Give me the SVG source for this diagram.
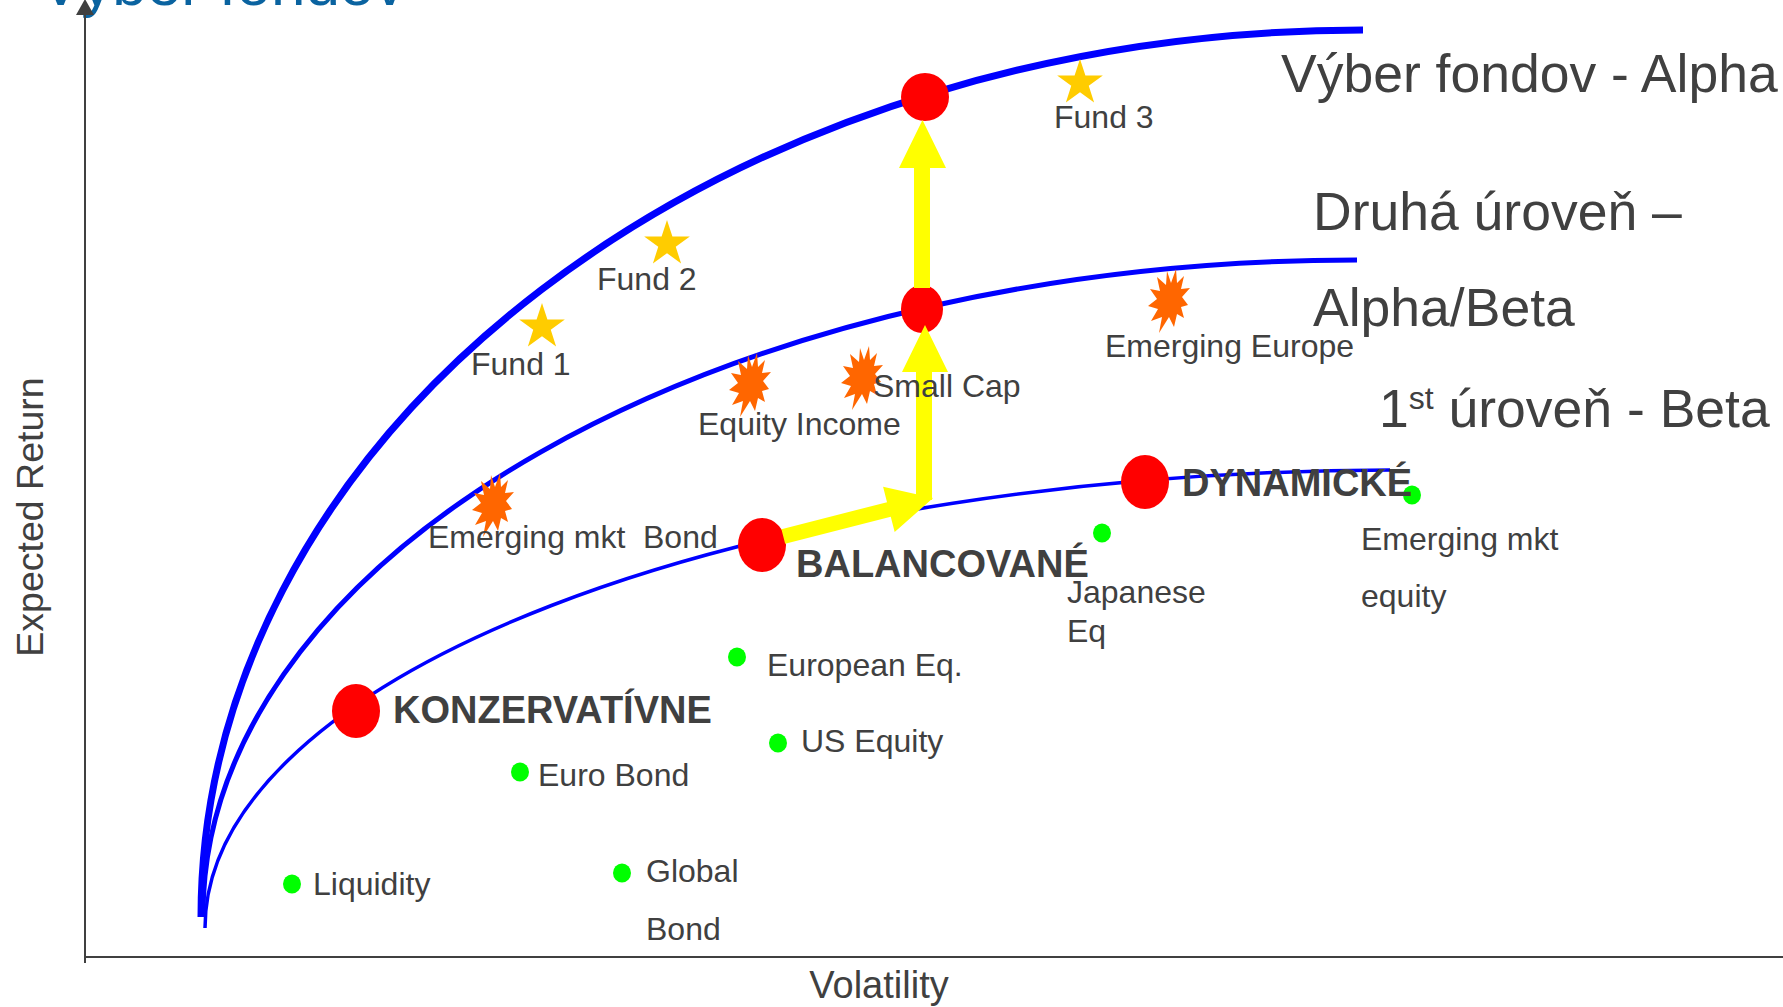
<svg xmlns="http://www.w3.org/2000/svg" xmlns:xlink="http://www.w3.org/1999/xlink" width="1783" height="1007" viewBox="0 0 1783 1007">
<style>
.t{font-family:"Liberation Sans",Arial,sans-serif;font-size:32px;fill:#404040}
.b{font-weight:bold;font-size:38px}
.big{font-size:53.5px}
.curve{fill:none;stroke:#0000FF}
.dot{fill:#FF0000}
.g{fill:#00FF00}
.star{fill:#FFCC00}
.burst{fill:#FF6600}
.arrow{fill:#FFFF00}
.axis{stroke:#404040;stroke-width:2;fill:none}
</style>
<defs>
<polygon id="star" points="0,-24 5.41,-7.44 22.83,-7.42 8.75,2.84 14.11,19.42 0,9.2 -14.11,19.42 -8.75,2.84 -22.83,-7.42 -5.41,-7.44"/>
<polygon id="burst" points="7,-32 8,-18 15,-25 12,-12 21,-13 13,-4 19,4 12,6 15,17 8,13 5,26 0,16 -10,32 -7,16 -18,20 -11,8 -21,5 -12,-2 -19,-12 -9,-10 -12,-24 -3,-16 -2,-30 2,-18"/>
</defs>
<rect width="1783" height="1007" fill="#FFFFFF"/>

<g id="title"><text class="t" x="40" y="5" style="font-size:62px;fill:#0A63A0">Výber fondov</text></g>

<g id="axes">
<line class="axis" x1="85" y1="10" x2="85" y2="963"/>
<line class="axis" x1="84" y1="957" x2="1783" y2="957"/>
<polygon points="85,-1 76,15 94,15" fill="#404040"/>
<text class="t" transform="translate(43,517) rotate(-90)" text-anchor="middle" style="font-size:37.5px">Expected Return</text>
<text class="t" x="879" y="998" text-anchor="middle" style="font-size:38px">Volatility</text>
</g>

<g id="frontiers">
<path class="curve" stroke-width="7" d="M201,917 A1162,887 0 0 1 1363,30"/>
<path class="curve" stroke-width="5" d="M203,915 A1154,655 0 0 1 1357,260"/>
<path class="curve" stroke-width="3.5" d="M205,928 A1195,458 0 0 1 1390,470.02"/>
</g>

<g id="level-alpha"><text class="t big" x="1281" y="92">Výber fondov - Alpha</text></g>
<g id="level-alpha-beta"><text class="t big" x="1313" y="230">Druhá úroveň –</text><text class="t big" x="1313" y="326">Alpha/Beta</text></g>
<g id="level-beta"><text class="t big" x="1379" y="427">1<tspan style="font-size:32px" dy="-18">st</tspan><tspan dy="18"> úroveň - Beta</tspan></text></g>

<g id="fund1"><use xlink:href="#star" class="star" x="542" y="327"/><text class="t" x="471" y="375">Fund 1</text></g>
<g id="fund2"><use xlink:href="#star" class="star" x="667" y="244"/><text class="t" x="597" y="290">Fund 2</text></g>
<g id="fund3"><use xlink:href="#star" class="star" x="1080" y="83"/><text class="t" x="1054" y="128">Fund 3</text></g>

<g id="emerging-mkt-bond"><use xlink:href="#burst" class="burst" x="493" y="505"/><text class="t" x="428" y="548">Emerging mkt<tspan x="643">Bond</tspan></text></g>
<g id="equity-income"><use xlink:href="#burst" class="burst" x="750" y="385"/><text class="t" x="698" y="435">Equity Income</text></g>
<g id="emerging-europe"><use xlink:href="#burst" class="burst" x="1169" y="301"/><text class="t" x="1105" y="357">Emerging Europe</text></g>

<g id="liquidity"><ellipse class="g" cx="292" cy="884" rx="9" ry="9.5"/><text class="t" x="313" y="895">Liquidity</text></g>
<g id="global-bond"><ellipse class="g" cx="622" cy="873" rx="9" ry="9.5"/><text class="t" x="646" y="882">Global</text><text class="t" x="646" y="940">Bond</text></g>
<g id="euro-bond"><ellipse class="g" cx="520" cy="772" rx="9" ry="9.5"/><text class="t" x="538" y="786">Euro Bond</text></g>
<g id="us-equity"><ellipse class="g" cx="778" cy="743" rx="9" ry="9.5"/><text class="t" x="801" y="752">US Equity</text></g>
<g id="european-eq"><ellipse class="g" cx="737" cy="657" rx="9" ry="9.5"/><text class="t" x="767" y="676">European Eq.</text></g>
<g id="japanese-eq"><ellipse class="g" cx="1102" cy="533" rx="9" ry="9.5"/><text class="t" x="1067" y="603">Japanese</text><text class="t" x="1067" y="642">Eq</text></g>
<g id="emerging-mkt-equity"><ellipse class="g" cx="1412" cy="495" rx="9" ry="9.5"/><text class="t" x="1361" y="550">Emerging mkt</text><text class="t" x="1361" y="607">equity</text></g>

<g id="konzervativne"><ellipse class="dot" cx="356" cy="711" rx="24" ry="27"/><text class="t b" x="393" y="723">KONZERVATÍVNE</text></g>
<g id="balancovane"><ellipse class="dot" cx="762" cy="545" rx="24" ry="27"/><text class="t b" x="796" y="577">BALANCOVANÉ</text></g>
<g id="dynamicke"><ellipse class="dot" cx="1145" cy="482" rx="24" ry="27"/><text class="t b" x="1182" y="496">DYNAMICKÉ</text></g>
<g id="beta-alpha-point"><ellipse class="dot" cx="922" cy="309" rx="21" ry="24"/></g>
<g id="alpha-point"><ellipse class="dot" cx="925" cy="97" rx="24" ry="24"/></g>

<g id="connectors">
<polygon class="arrow" points="914,288 914,168 899,168 922.5,120 946,168 930,168 930,288"/>
<polygon class="arrow" transform="translate(762,542) rotate(-14.4)" points="22,-7.5 131,-7.5 131,-23.3 176.6,0 131,23.3 131,7.5 22,7.5"/>
<polygon class="arrow" points="916,500 916,372 902,372 925,325 948,372 932,372 932,500"/>
</g>

<g id="small-cap"><use xlink:href="#burst" class="burst" x="862" y="378"/><text class="t" x="873" y="397">Small Cap</text></g>
</svg>
